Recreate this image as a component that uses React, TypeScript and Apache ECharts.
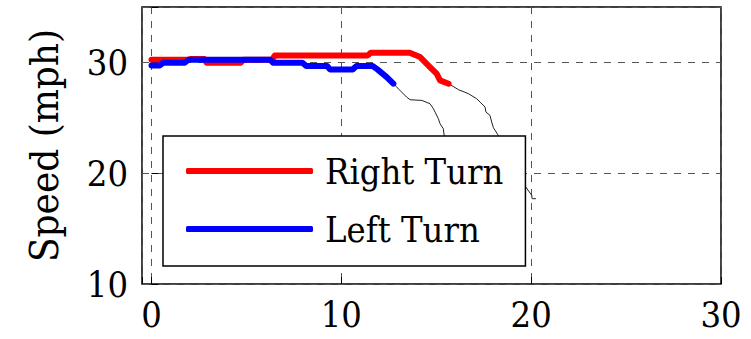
import React, { useEffect, useRef } from "react";
import * as echarts from "echarts";

const rightTurnX = [0, 1.9, 2.05, 2.8, 2.9, 4.7, 4.85, 6.35, 6.5, 11.4, 11.55, 13.6, 14.15, 14.67, 15.02, 15.2, 15.65];
const rightTurnY = [30.24, 30.24, 30.3, 30.3, 29.97, 29.97, 30.24, 30.24, 30.63, 30.63, 30.87, 30.87, 30.48, 29.58, 28.98, 28.38, 28.08];

const leftTurnX = [0, 0.45, 0.6, 1.75, 1.95, 6.25, 6.4, 7.95, 8.15, 9.25, 9.4, 10.6, 10.8, 11.65, 11.9, 12.39, 12.74];
const leftTurnY = [29.73, 29.73, 29.97, 29.97, 30.24, 30.24, 29.97, 29.97, 29.67, 29.67, 29.37, 29.37, 29.67, 29.67, 29.37, 28.67, 28.08];

const leftTailX = [12.74, 13.44, 13.62, 14.24, 14.67, 14.85, 14.94, 15.11, 15.2, 15.37, 15.43, 16.0, 16.6];
const leftTailY = [28.08, 26.87, 26.63, 26.57, 26.27, 25.82, 25.51, 24.92, 24.47, 24.02, 23.26, 21.0, 18.5];

const rightTailX = [15.65, 16.17, 16.69, 17.13, 17.31, 17.57, 17.62, 17.83, 17.92, 18.01, 18.27, 18.8, 19.3, 19.68, 20.03, 20.05, 20.25];
const rightTailY = [28.08, 27.54, 27.18, 26.72, 26.42, 25.97, 25.51, 25.22, 24.62, 24.11, 23.41, 21.6, 20.1, 18.84, 18.0, 17.7, 17.7];

const xTicks = [0, 10, 20, 30];
const yTicks = [10, 20, 30];

const SERIF = "'DejaVu Serif Condensed', 'DejaVu Serif', serif";

const zip = (xs: number[], ys: number[]) => xs.map((x, i) => [x, ys[i]]);

export default function App() {
  const ref = useRef<HTMLDivElement>(null);
  useEffect(() => {
    if (!ref.current) return;
    const chart = echarts.init(ref.current, undefined, { renderer: "svg" });
    const dashed = { color: "#555", width: 1, type: [7, 7] as any };
    chart.setOption({
      animation: false,
      backgroundColor: "#fff",
      textStyle: { fontFamily: SERIF },
      grid: {
        left: 142,
        right: 30,
        top: 7,
        bottom: 55,
        show: true,
        borderColor: "#000",
        borderWidth: 1.5,
      },
      xAxis: {
        type: "value",
        min: -0.5,
        max: 30,
        splitNumber: 3,
        axisLine: { show: false },
        axisTick: { show: true, inside: true, length: 7, lineStyle: { color: "#000", width: 1 } },
        axisLabel: {
          margin: 12,
          fontSize: 36,
          fontFamily: SERIF,
          color: "#000",
          formatter: (v: number) => (xTicks.includes(v) ? String(v) : ""),
        },
        splitLine: { show: true, lineStyle: dashed },
      },
      yAxis: {
        type: "value",
        min: 10,
        max: 35,
        interval: 10,
        name: "Speed (mph)",
        nameLocation: "middle",
        nameRotate: 90,
        nameGap: 78,
        nameTextStyle: { fontSize: 40, fontFamily: SERIF, color: "#000" },
        axisLine: { show: false },
        axisTick: { show: true, inside: true, length: 7, lineStyle: { color: "#000", width: 1 } },
        axisLabel: {
          margin: 14,
          fontSize: 36,
          fontFamily: SERIF,
          color: "#000",
          formatter: (v: number) => (yTicks.includes(v) ? String(v) : ""),
        },
        splitLine: { show: true, lineStyle: dashed },
      },
      legend: {
        data: [
          { name: "Right Turn", icon: "roundRect" },
          { name: "Left Turn", icon: "roundRect" },
        ],
        orient: "vertical",
        left: 163,
        top: 136,
        itemWidth: 127,
        itemHeight: 6,
        itemGap: 10,
        padding: [11, 22, 13, 23],
        backgroundColor: "#fff",
        borderColor: "#000",
        borderWidth: 1.5,
        borderRadius: 0,
        textStyle: {
          fontSize: 36,
          lineHeight: 48,
          fontFamily: SERIF,
          color: "#000",
          padding: [0, 0, 0, 7],
        },
      },
      series: [
        {
          name: "leftTail",
          type: "line",
          data: zip(leftTailX, leftTailY),
          showSymbol: false,
          lineStyle: { color: "#222", width: 1 },
          itemStyle: { color: "#222" },
          z: 1,
        },
        {
          name: "rightTail",
          type: "line",
          data: zip(rightTailX, rightTailY),
          showSymbol: false,
          lineStyle: { color: "#222", width: 1 },
          itemStyle: { color: "#222" },
          z: 1,
        },
        {
          name: "Right Turn",
          type: "line",
          data: zip(rightTurnX, rightTurnY),
          showSymbol: false,
          lineStyle: { color: "#ff0000", width: 6, cap: "round", join: "round" },
          itemStyle: { color: "#ff0000" },
          z: 2,
        },
        {
          name: "Left Turn",
          type: "line",
          data: zip(leftTurnX, leftTurnY),
          showSymbol: false,
          lineStyle: { color: "#0000ff", width: 6, cap: "round", join: "round" },
          itemStyle: { color: "#0000ff" },
          z: 3,
        },
      ],
    });
    return () => chart.dispose();
  }, []);
  return (
    <div
      ref={ref}
      style={{ position: "fixed", left: 0, top: 0, width: 751, height: 339, background: "#fff" }}
    />
  );
}
